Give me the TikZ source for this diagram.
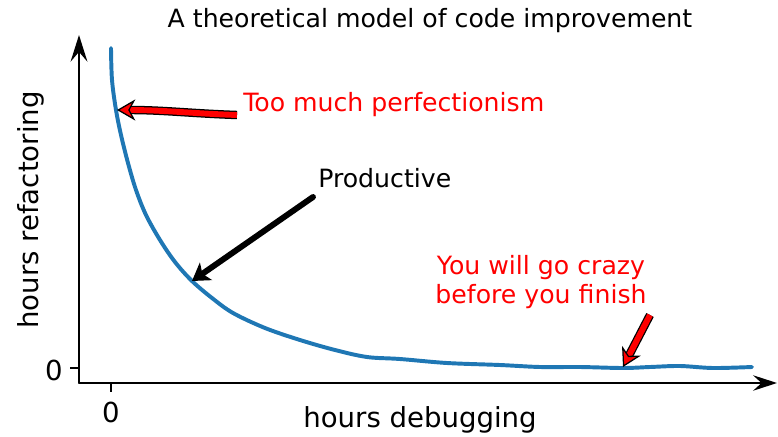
\documentclass[tikz,border=0pt]{standalone}
\usepackage{fontspec}
\setmainfont{DejaVu Sans}
\usetikzlibrary{arrows.meta}
\definecolor{mplblue}{HTML}{1F77B4}
\definecolor{notered}{HTML}{FF0000}

\begin{document}
\begin{tikzpicture}[x=0.025cm, y=-0.025cm,
  every node/.style={font=\fontsize{17.9}{20}\selectfont, inner sep=0pt},
  axisfont/.style={font=\fontsize{19.6}{22}\selectfont},
  axisline/.style={line width=1.2pt, line cap=round},
  ticks/.style={line width=1.8pt},
  curve/.style={mplblue, line width=2.8pt, line cap=round},
  redarrow/.style={line width=0.9pt, double=notered, double distance=4.2pt,
    -{Stealth[length=13pt, width=15pt, inset=4pt, fill=notered, line width=0.9pt]}},
  blackarrow/.style={line width=4.2pt, line cap=round,
    -{Stealth[length=12pt, width=15pt, inset=3pt]}},
  note/.style={notered}]
\useasboundingbox (0,0) rectangle (778,436);

% axes
\coordinate (origin) at (79,383);
\coordinate (ytop) at (79,35);
\coordinate (xend) at (777,383);
\draw[axisline, -{Stealth[length=19pt, width=12pt, inset=7pt]}] (origin) -- (ytop);
\draw[axisline, -{Stealth[length=17pt, width=11pt, inset=6pt]}] (origin) -- (xend);

% ticks
\coordinate (yt) at (79,368);
\coordinate (xt) at (111,383);
\draw[ticks] (yt) -- +(-9,0);
\draw[ticks] (xt) -- +(0,9);
\node(ylab0) [axisfont] at (54,370) {0};
\node(xlab0) [axisfont] at (111,412) {0};

% labels
\node(title) [anchor=base] at (430,27) {A theoretical model of code improvement};
\node(xlabel) [axisfont, anchor=base] at (420,427) {hours debugging};
\node(ylabel) [axisfont, anchor=base, rotate=90] at (38,210) {hours refactoring};

% the curve
\draw[curve] plot[smooth, tension=0.55] coordinates {
  (111,48) (112,80) (116,110) (121,135) (128,163) (136,190) (146,215)
  (160,240) (175,262) (192,281) (212,298) (233,313) (265,328) (300,340)
  (335,350) (367,357) (400,359) (447,363) (500,365) (540,367) (580,367)
  (623,368) (650,367) (680,366) (713,368) (752,367)};

% annotations
\node(perf) [note, anchor=base west] at (243,111) {Too much perfectionism};
\node(prod) [anchor=base west] at (318,187) {Productive};
\node(crazy) [note, align=center, anchor=base] at (541,303)
  {You will go crazy\\before you finish};

\coordinate (perftail) at (237,115);
\coordinate (perftip) at (117,110);
\coordinate (prodtail) at (313,197);
\coordinate (prodtip) at (192,281);
\coordinate (crazytail) at (650,315);
\coordinate (crazytip) at (623,367);

\draw[redarrow] (perftail) to[out=178, in=0] (perftip);
\draw[blackarrow] (prodtail) -- (prodtip);
\draw[redarrow] (crazytail) -- (crazytip);
\end{tikzpicture}
\end{document}
